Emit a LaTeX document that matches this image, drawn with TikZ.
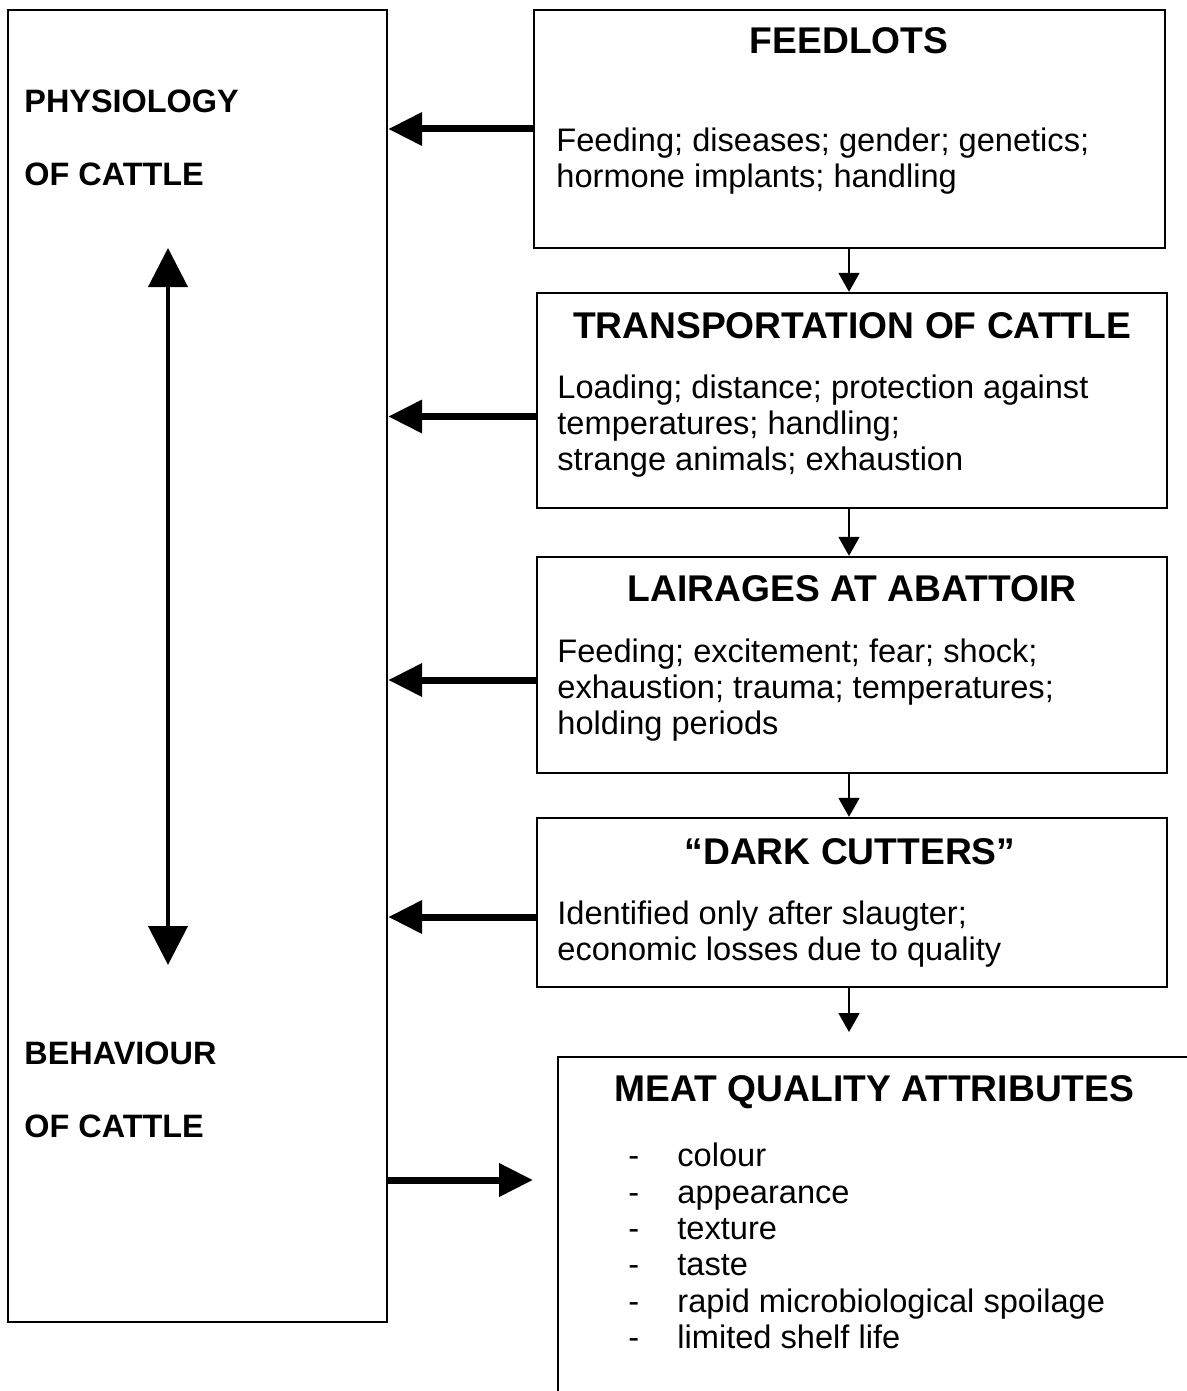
\documentclass[tikz,border=0pt]{standalone}
\usepackage{fontspec}
\setmainfont{Liberation Sans}
\usetikzlibrary{arrows.meta}
\usetikzlibrary{positioning}
\usetikzlibrary{calc}

\newcommand{\itm}[1]{\makebox[24.5pt][l]{-}#1}

\begin{document}
\begin{tikzpicture}[
    x=0.5pt, y=-0.5pt,
    box/.style={draw, line width=1.2pt, inner sep=0pt},
    title/.style={font=\fontsize{18.6}{22}\selectfont\bfseries, inner sep=0pt},
    body/.style={font=\fontsize{16.3}{18.2}\selectfont, align=left, inner sep=0pt},
    side/.style={font=\fontsize{16.2}{19}\selectfont\bfseries, inner sep=0pt},
    bigarrow/.style={line width=3.5pt, -{Triangle[width=16pt,length=17pt]}},
    smallarrow/.style={line width=0.9pt, -{Triangle[width=10.5pt,length=9.5pt]}}]

    \useasboundingbox (0,0) rectangle (1187,1391);

    % physiology / behaviour of cattle
    \node[box, minimum width=189.5pt, minimum height=656pt] (cattle) at (197.5,666) {};
    \node[side, anchor=west] (physio) at (24,101) {PHYSIOLOGY};
    \node[side, anchor=west] (physioof) at (24,174) {OF CATTLE};
    \node[side, anchor=west] (behav) at (24,1053) {BEHAVIOUR};
    \node[side, anchor=west] (behavof) at (24,1126) {OF CATTLE};
    \coordinate (uptip) at (168,248);
    \coordinate (downtip) at (168,965);
    \draw[line width=2pt, {Triangle[width=19.5pt,length=19.5pt]}-{Triangle[width=19.5pt,length=19.5pt]}]
        (uptip) -- (downtip);

    % feedlots
    \node[box, minimum width=315.5pt, minimum height=119pt] (feed) at (849.5,129) {};
    \node[title] (feedt) at (849,41) {FEEDLOTS};
    \node[body, anchor=west] (feedb) at (556,161)
        {Feeding; diseases; gender; genetics;\\hormone implants; handling};

    % transportation
    \node[box, minimum width=315pt, minimum height=107.5pt] (trans) at (852,400.5) {};
    \node[title] (transt) at (852,326) {TRANSPORTATION OF CATTLE};
    \node[body, anchor=west] (transb) at (557,426)
        {Loading; distance; protection against\\temperatures; handling;\\strange animals; exhaustion};

    % lairages
    \node[box, minimum width=315pt, minimum height=108pt] (lair) at (852,665) {};
    \node[title] (lairt) at (852,589) {LAIRAGES AT ABATTOIR};
    \node[body, anchor=west] (lairb) at (557,690)
        {Feeding; excitement; fear; shock;\\exhaustion; trauma; temperatures;\\holding periods};

    % dark cutters
    \node[box, minimum width=315pt, minimum height=84.5pt] (dark) at (852,902.5) {};
    \node[title] (darkt) at (850,852) {“DARK CUTTERS”};
    \node[body, anchor=west] (darkb) at (557,934)
        {Identified only after slaugter;\\economic losses due to quality};

    % meat quality
    \node[box, minimum width=321pt, minimum height=171.5pt] (meat) at (879,1228.5) {};
    \node[title] (meatt) at (874.5,1092) {MEAT QUALITY ATTRIBUTES};
    \node[body, anchor=west] (meatb) at (628,1246)
        {\itm{colour}\\\itm{appearance}\\\itm{texture}\\\itm{taste}\\
         \itm{rapid microbiological spoilage}\\\itm{limited shelf life}};

    % arrows
    \draw[bigarrow] (feed.west) -- (feed.west -| cattle.east);
    \draw[bigarrow] ([yshift=-8pt]trans.west) -- ([yshift=-8pt]trans.west -| cattle.east);
    \draw[bigarrow] ([yshift=-7.5pt]lair.west) -- ([yshift=-7.5pt]lair.west -| cattle.east);
    \draw[bigarrow] ([yshift=-7.25pt]dark.west) -- ([yshift=-7.25pt]dark.west -| cattle.east);
    \coordinate (meattip) at (533,1180);
    \draw[bigarrow] (cattle.east |- meattip) -- (meattip);

    \coordinate (darktip) at (849,1032);
    \draw[smallarrow] (feed.south -| darktip) -- (trans.north -| darktip);
    \draw[smallarrow] (trans.south -| darktip) -- (lair.north -| darktip);
    \draw[smallarrow] (lair.south -| darktip) -- (dark.north -| darktip);
    \draw[smallarrow] (dark.south -| darktip) -- (darktip);

\end{tikzpicture}
\end{document}
